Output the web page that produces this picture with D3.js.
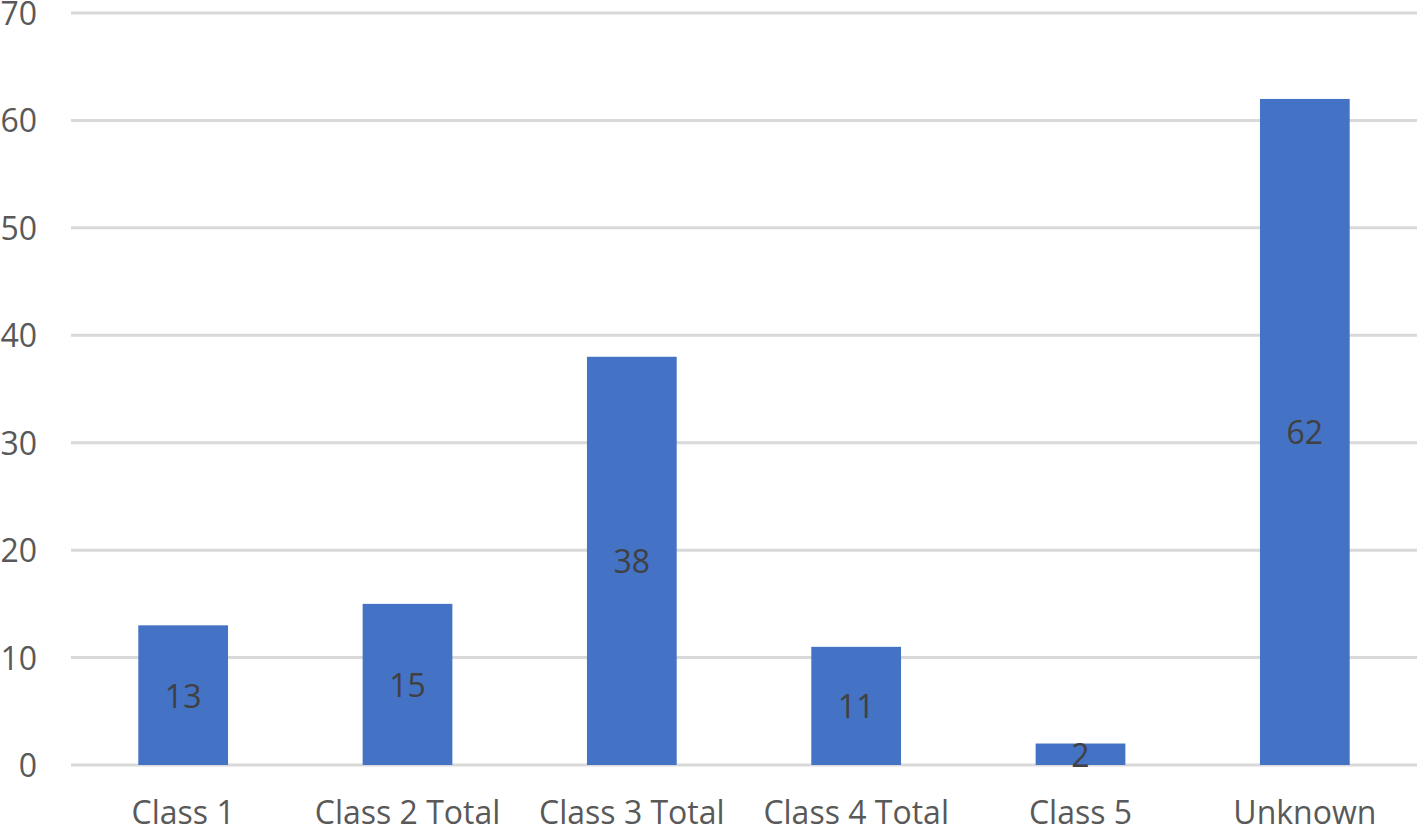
<!DOCTYPE html>
<html><head><meta charset="utf-8">
<script src="https://cdn.jsdelivr.net/npm/d3@7"></script>
<style>body{margin:0;background:#fff}svg{display:block}text{font-family:"Open Sans",sans-serif}</style>
</head><body>
<svg id="c" width="1417" height="826"></svg>
<script>
const categories = ["Class 1","Class 2 Total","Class 3 Total","Class 4 Total","Class 5","Unknown"];
const values = [13,15,38,11,2,62];
const yTicks = [0,10,20,30,40,50,60,70];

const svg = d3.select("#c");
const x = d3.scaleBand().domain(categories).range([71,1417]).paddingInner(0.6).paddingOuter(0.3);
const y = d3.scaleLinear().domain([0,70]).range([765,13]);
const FONT = "'Open Sans',sans-serif";

// gridlines
svg.append("g").selectAll("line").data(yTicks).join("line")
  .attr("x1",71).attr("x2",1417).attr("y1",d=>y(d)).attr("y2",d=>y(d))
  .attr("stroke","#d9d9d9").attr("stroke-width",3);

// y axis labels
const ya = svg.append("g").attr("transform","translate(37,0)")
  .call(d3.axisLeft(y).tickValues(yTicks).tickSize(0).tickPadding(0));
ya.select(".domain").remove();
ya.selectAll("text").attr("font-size",32).attr("fill","#595959").attr("font-family",FONT).attr("dy","0.36em");

// bars
svg.append("g").selectAll("rect").data(values).join("rect")
  .attr("x",(d,i)=>x(categories[i])).attr("width",x.bandwidth())
  .attr("y",d=>y(d)).attr("height",d=>y(0)-y(d)).attr("fill","#4472c4");

// data labels
svg.append("g").selectAll("text").data(values).join("text")
  .attr("x",(d,i)=>x(categories[i])+x.bandwidth()/2)
  .attr("y",d=>(y(d)+y(0))/2+1)
  .attr("text-anchor","middle").attr("dy","0.36em")
  .attr("font-family",FONT).attr("font-size",32).attr("fill","#404040").text(d=>d);

// x axis labels
const xa = svg.append("g").attr("transform","translate(0,765)")
  .call(d3.axisBottom(x).tickSize(0).tickPadding(0));
xa.select(".domain").remove();
xa.selectAll("text").attr("font-size",32).attr("fill","#595959").attr("font-family",FONT).attr("dy",null).attr("y",59);
</script>
</body></html>
